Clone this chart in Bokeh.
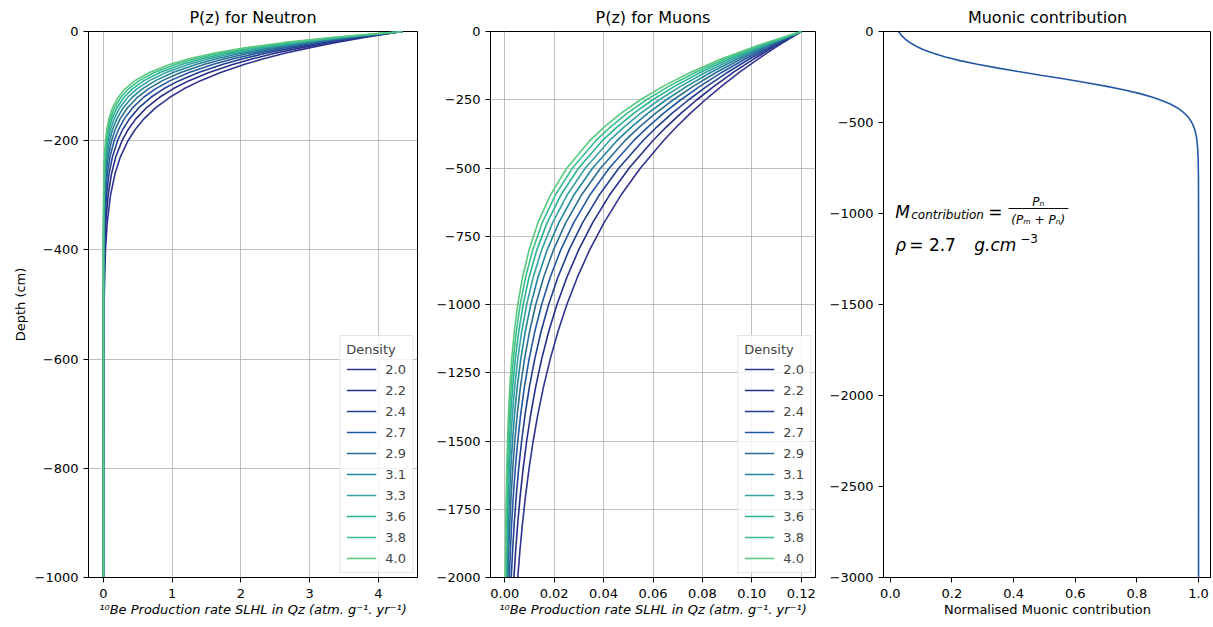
from bokeh.plotting import figure
from bokeh.layouts import row
from bokeh.models import Range1d, FixedTicker, CustomJSTickFormatter, NumeralTickFormatter, Label
from bokeh.embed import file_html
from bokeh.resources import INLINE

# ---------------- data ----------------
densities = ["2.0", "2.2", "2.4", "2.7", "2.9", "3.1", "3.3", "3.6", "3.8", "4.0"]
density_colors = ["#30338f", "#262f88", "#223f8f", "#2457a3", "#2b6d8f", "#21869b",
                  "#36a0a2", "#2ab393", "#3cbd8c", "#58c87e"]

neutron_depth = [0, -10, -20, -30, -40, -50, -60, -75, -90, -105, -120, -140, -160,
                 -180, -200, -230, -260, -300, -350, -400, -500, -1000]
neutron_rho_2_0 = [4.350, 3.839, 3.388, 2.990, 2.638, 2.328, 2.055, 1.704, 1.412, 1.171, 0.971, 0.756, 0.589, 0.459, 0.357, 0.245, 0.169, 0.102, 0.0548, 0.0293, 0.0084, 0.0]
neutron_rho_2_2 = [4.350, 3.786, 3.295, 2.868, 2.496, 2.172, 1.891, 1.535, 1.246, 1.012, 0.822, 0.622, 0.471, 0.357, 0.270, 0.178, 0.118, 0.0675, 0.0337, 0.0168, 0.0042, 0.0]
neutron_rho_2_4 = [4.350, 3.734, 3.205, 2.751, 2.361, 2.027, 1.739, 1.383, 1.100, 0.875, 0.696, 0.512, 0.378, 0.278, 0.205, 0.130, 0.0819, 0.0445, 0.0207, 0.0096, 0.0021, 0.0]
neutron_rho_2_7 = [4.350, 3.682, 3.117, 2.638, 2.233, 1.891, 1.600, 1.246, 0.971, 0.756, 0.589, 0.422, 0.302, 0.217, 0.155, 0.0941, 0.0571, 0.0293, 0.0127, 0.0055, 0.0010, 0.0]
neutron_rho_2_9 = [4.350, 3.631, 3.032, 2.531, 2.113, 1.764, 1.472, 1.123, 0.857, 0.653, 0.499, 0.347, 0.242, 0.169, 0.118, 0.0684, 0.0398, 0.0193, 0.0078, 0.0032, 0.0005, 0.0]
neutron_rho_3_1 = [4.350, 3.581, 2.949, 2.427, 1.998, 1.645, 1.355, 1.012, 0.756, 0.565, 0.422, 0.286, 0.194, 0.131, 0.0890, 0.0497, 0.0277, 0.0127, 0.0048, 0.0018, 0.0002, 0.0]
neutron_rho_3_3 = [4.350, 3.532, 2.868, 2.328, 1.891, 1.535, 1.246, 0.912, 0.667, 0.488, 0.357, 0.235, 0.155, 0.102, 0.0675, 0.0361, 0.0193, 0.0084, 0.0030, 0.0010, 0.0001, 0.0]
neutron_rho_3_6 = [4.350, 3.483, 2.789, 2.233, 1.788, 1.432, 1.147, 0.822, 0.589, 0.422, 0.302, 0.194, 0.124, 0.0797, 0.0511, 0.0262, 0.0135, 0.0055, 0.0018, 0.0006, 0.0, 0.0]
neutron_rho_3_8 = [4.350, 3.435, 2.713, 2.142, 1.692, 1.336, 1.055, 0.740, 0.520, 0.365, 0.256, 0.160, 0.0995, 0.0620, 0.0387, 0.0191, 0.0094, 0.0037, 0.0011, 0.0003, 0.0, 0.0]
neutron_rho_4_0 = [4.350, 3.388, 2.638, 2.055, 1.600, 1.246, 0.971, 0.667, 0.459, 0.315, 0.217, 0.131, 0.0797, 0.0483, 0.0293, 0.0138, 0.0065, 0.0024, 0.0007, 0.0002, 0.0, 0.0]

muon_depth = [0, -50, -100, -150, -200, -250, -300, -350, -400, -500, -600, -700, -800,
              -900, -1000, -1100, -1200, -1300, -1400, -1500, -1600, -1700, -1800, -1900, -2000]
muon_rho_2_0 = [0.12, 0.11098, 0.10264, 0.09493, 0.08779, 0.08119, 0.07509, 0.06945, 0.06423, 0.05494, 0.04699, 0.04020, 0.03438, 0.02941, 0.02515, 0.02151, 0.01840, 0.01574, 0.01346, 0.01152, 0.00985, 0.00843, 0.00721, 0.00616, 0.00527]
muon_rho_2_2 = [0.12, 0.11002, 0.10087, 0.09248, 0.08480, 0.07775, 0.07128, 0.06535, 0.05992, 0.05037, 0.04234, 0.03560, 0.02992, 0.02515, 0.02114, 0.01777, 0.01494, 0.01256, 0.01056, 0.00888, 0.00746, 0.00627, 0.00527, 0.00443, 0.00373]
muon_rho_2_4 = [0.12, 0.10907, 0.09914, 0.09011, 0.08190, 0.07444, 0.06767, 0.06151, 0.05590, 0.04619, 0.03816, 0.03152, 0.02604, 0.02151, 0.01777, 0.01468, 0.01213, 0.01002, 0.00828, 0.00684, 0.00565, 0.00467, 0.00386, 0.00319, 0.00263]
muon_rho_2_7 = [0.12, 0.10813, 0.09743, 0.08779, 0.07911, 0.07128, 0.06423, 0.05788, 0.05215, 0.04234, 0.03438, 0.02791, 0.02267, 0.01840, 0.01494, 0.01213, 0.00985, 0.00800, 0.00649, 0.00527, 0.00428, 0.00348, 0.00282, 0.00229, 0.00186]
muon_rho_2_9 = [0.12, 0.10719, 0.09576, 0.08554, 0.07641, 0.06826, 0.06097, 0.05446, 0.04865, 0.03882, 0.03098, 0.02472, 0.01973, 0.01574, 0.01256, 0.01002, 0.00800, 0.00638, 0.00509, 0.00406, 0.00324, 0.00259, 0.00206, 0.00165, 0.00131]
muon_rho_3_1 = [0.12, 0.10627, 0.09411, 0.08334, 0.07380, 0.06536, 0.05788, 0.05126, 0.04539, 0.03560, 0.02791, 0.02189, 0.01717, 0.01346, 0.01056, 0.00828, 0.00649, 0.00509, 0.00399, 0.00313, 0.00246, 0.00193, 0.00151, 0.00118, 0.00093]
muon_rho_3_3 = [0.12, 0.10535, 0.09249, 0.08120, 0.07128, 0.06258, 0.05494, 0.04823, 0.04234, 0.03264, 0.02515, 0.01939, 0.01494, 0.01152, 0.00888, 0.00684, 0.00527, 0.00406, 0.00313, 0.00241, 0.00186, 0.00143, 0.00111, 0.00085, 0.00066]
muon_rho_3_6 = [0.12, 0.10444, 0.09090, 0.07911, 0.06885, 0.05992, 0.05215, 0.04539, 0.03950, 0.02992, 0.02267, 0.01717, 0.01300, 0.00985, 0.00746, 0.00565, 0.00428, 0.00324, 0.00246, 0.00186, 0.00141, 0.00107, 0.00081, 0.00061, 0.00046]
muon_rho_3_8 = [0.12, 0.10354, 0.08933, 0.07707, 0.06650, 0.05738, 0.04950, 0.04271, 0.03685, 0.02743, 0.02042, 0.01520, 0.01132, 0.00843, 0.00627, 0.00467, 0.00348, 0.00259, 0.00193, 0.00143, 0.00107, 0.00079, 0.00059, 0.00044, 0.00033]
muon_rho_4_0 = [0.12, 0.10264, 0.08779, 0.07509, 0.06423, 0.05494, 0.04699, 0.04019, 0.03438, 0.02515, 0.01840, 0.01346, 0.00985, 0.00721, 0.00527, 0.00386, 0.00282, 0.00206, 0.00151, 0.00111, 0.00081, 0.00059, 0.00043, 0.00032, 0.00023]

contribution_depth = [0, -20, -40, -60, -80, -100, -120, -140, -160, -180, -200, -220, -240,
                      -260, -280, -300, -320, -340, -360, -380, -400, -420, -440, -460, -480,
                      -500, -520, -540, -560, -580, -600, -650, -700, -800, -1000, -1500,
                      -2000, -3000]
muonic_contribution = [0.0268, 0.0357, 0.0474, 0.0627, 0.0825, 0.1078, 0.1396, 0.1790, 0.2265,
                       0.2824, 0.3458, 0.4153, 0.4883, 0.5618, 0.6327, 0.6983, 0.7567, 0.8069,
                       0.8488, 0.8829, 0.9102, 0.9316, 0.9482, 0.9609, 0.9706, 0.9780, 0.9835,
                       0.9877, 0.9908, 0.9931, 0.9949, 0.9975, 0.9988, 0.9997, 1.0, 1.0, 1.0, 1.0]

neutron_series = [neutron_rho_2_0, neutron_rho_2_2, neutron_rho_2_4, neutron_rho_2_7, neutron_rho_2_9,
                  neutron_rho_3_1, neutron_rho_3_3, neutron_rho_3_6, neutron_rho_3_8, neutron_rho_4_0]
muon_series = [muon_rho_2_0, muon_rho_2_2, muon_rho_2_4, muon_rho_2_7, muon_rho_2_9,
               muon_rho_3_1, muon_rho_3_3, muon_rho_3_6, muon_rho_3_8, muon_rho_4_0]

neutron_xticks = [0, 1, 2, 3, 4]
neutron_yticks = [0, -200, -400, -600, -800, -1000]
muon_xticks = [0.0, 0.02, 0.04, 0.06, 0.08, 0.10, 0.12]
muon_yticks = [0, -250, -500, -750, -1000, -1250, -1500, -1750, -2000]
contrib_xticks = [0.0, 0.2, 0.4, 0.6, 0.8, 1.0]
contrib_yticks = [0, -500, -1000, -1500, -2000, -2500, -3000]

XLABEL = "\u00b9\u2070Be Production rate SLHL in Qz (atm. g\u207b\u00b9. yr\u207b\u00b9)"
FONT = "DejaVu Sans"
H = 627
TOP = 31
BOTTOM = 50

minus_fmt = "return String(tick).replace('-', '\\u2212');"


def style(p, xticks, yticks, xfmt, grid=True):
    p.background_fill_color = "white"
    p.border_fill_color = "white"
    p.outline_line_color = "black"
    p.outline_line_width = 1
    p.outline_line_alpha = 1
    p.title.align = "center"
    p.title.text_font = FONT
    p.title.text_font_size = "16px"
    p.title.text_font_style = "normal"
    p.title.text_color = "black"
    p.title.standoff = 9
    p.xaxis.ticker = FixedTicker(ticks=xticks)
    p.yaxis.ticker = FixedTicker(ticks=yticks)
    p.xaxis.formatter = NumeralTickFormatter(format=xfmt)
    p.yaxis.formatter = CustomJSTickFormatter(code=minus_fmt)
    for ax in (p.xaxis[0], p.yaxis[0]):
        ax.axis_line_color = "black"
        ax.major_tick_line_color = "black"
        ax.major_tick_out = 5
        ax.major_tick_in = 0
        ax.minor_tick_line_color = None
        ax.major_label_text_font = FONT
        ax.major_label_text_font_size = "13px"
        ax.major_label_text_color = "black"
        ax.major_label_standoff = 5
        ax.axis_label_text_font = FONT
        ax.axis_label_text_font_size = "13px"
        ax.axis_label_text_font_style = "normal"
        ax.axis_label_text_color = "black"
        ax.axis_label_standoff = 4
    p.xaxis[0].major_label_standoff = 6
    p.xaxis[0].axis_label_standoff = 1
    if grid:
        for g in (p.xgrid[0], p.ygrid[0]):
            g.grid_line_color = "#b0b0b0"
            g.grid_line_width = 0.8
    else:
        p.xgrid.grid_line_color = None
        p.ygrid.grid_line_color = None


def style_legend(p):
    leg = p.legend[0]
    leg.title = "Density"
    leg.location = "bottom_right"
    leg.margin = 4
    leg.padding = 6
    leg.spacing = 5
    leg.glyph_width = 30
    leg.glyph_height = 16
    leg.label_height = 16
    leg.label_standoff = 9
    leg.label_text_font = FONT
    leg.label_text_font_size = "13px"
    leg.title_text_font = FONT
    leg.title_text_font_size = "13px"
    leg.title_text_font_style = "normal"
    leg.title_standoff = 4
    leg.border_line_color = "#cccccc"
    leg.border_line_width = 1
    leg.background_fill_alpha = 0.8


# ---------------- panel 1 ----------------
p1 = figure(width=433, height=H, title="P(z) for Neutron",
            x_range=Range1d(-0.2175, 4.5675), y_range=Range1d(-1000, 0),
            output_backend="svg", toolbar_location=None,
            min_border_left=88, min_border_right=16, min_border_top=TOP, min_border_bottom=BOTTOM)
for lab, col, vals in zip(densities, density_colors, neutron_series):
    p1.line(vals, neutron_depth, line_color=col, line_width=1.6, legend_label=lab)
style(p1, neutron_xticks, neutron_yticks, "0")
p1.xaxis.axis_label = XLABEL
p1.xaxis.axis_label_text_font_style = "italic"
p1.yaxis.axis_label = "Depth (cm)"
style_legend(p1)

# ---------------- panel 2 ----------------
p2 = figure(width=393, height=H, title="P(z) for Muons",
            x_range=Range1d(-0.00576, 0.12576), y_range=Range1d(-2000, 0),
            output_backend="svg", toolbar_location=None,
            min_border_left=53, min_border_right=11, min_border_top=TOP, min_border_bottom=BOTTOM)
for lab, col, vals in zip(densities, density_colors, muon_series):
    p2.line(vals, muon_depth, line_color=col, line_width=1.6, legend_label=lab)
style(p2, muon_xticks, muon_yticks, "0.00")
p2.xaxis.axis_label = XLABEL
p2.xaxis.axis_label_text_font_style = "italic"
style_legend(p2)

# ---------------- panel 3 ----------------
p3 = figure(width=385, height=H, title="Muonic contribution",
            x_range=Range1d(-0.0219, 1.042), y_range=Range1d(-3000, 0),
            output_backend="svg", toolbar_location=None,
            min_border_left=55, min_border_right=0, min_border_top=TOP, min_border_bottom=BOTTOM)
p3.line(muonic_contribution, contribution_depth, line_color=density_colors[3], line_width=1.6)
style(p3, contrib_xticks, contrib_yticks, "0.0", grid=False)
p3.xaxis.axis_label = "Normalised Muonic contribution"

# annotation text (mathtext-like)
ax0, ay0 = 0.0, -994.5


def lab(text, dx, dy, size, style="normal", align="left", baseline="alphabetic"):
    p3.add_layout(Label(x=ax0, y=ay0, x_offset=dx, y_offset=dy, text=text,
                        text_font=FONT, text_font_size=size, text_font_style=style,
                        text_align=align, text_baseline=baseline, text_color="black"))


lab("M", 5, 0, "17px", "italic")
lab("contribution", 21, -3, "12px", "italic")
lab("=", 98, 0, "17px")
lab("P\u2099", 148, 10, "12px", "italic", align="center")
lab("\u2500" * 9, 148, 4, "11px", align="center", baseline="middle")
lab("(P\u2098 + P\u2099)", 148, -8, "12px", "italic", align="center")
lab("\u03c1", 5, -33, "17px", "italic")
lab("= 2.7", 19, -33, "17px")
lab("g.cm", 84, -33, "17px", "italic")
lab("\u22123", 130, -26, "12px")

layout = row(p1, p2, p3)
open("out.html", "w").write(file_html(layout, INLINE))
